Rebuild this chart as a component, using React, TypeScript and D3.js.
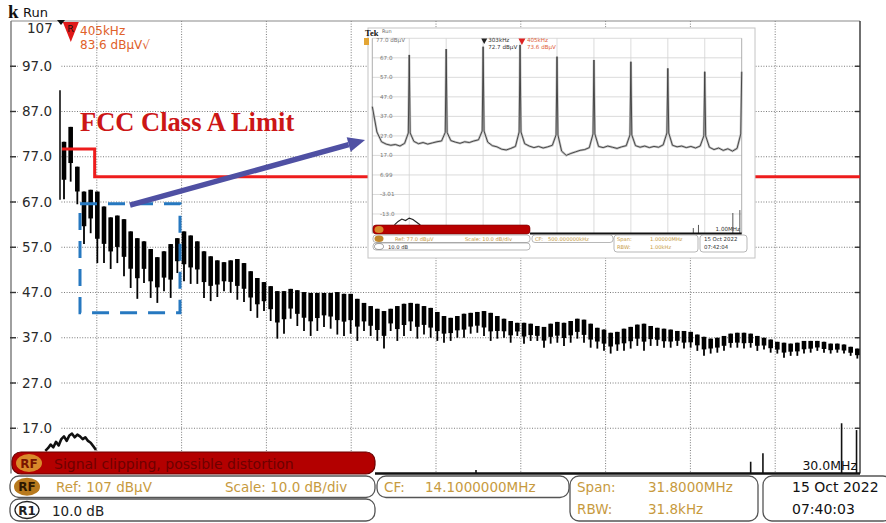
import React from "react";
import * as d3 from "d3";

// ---------- main spectrum (RF, 0 – 30 MHz) ----------
const spanStartMHz = -1.8;
const spanStopMHz = 30;
const refLevelDb = 107;
const bottomLevelDb = 7;

const yTickValues = [97, 87, 77, 67, 57, 47, 37, 27, 17];
const yTickLabels = ["97.0", "87.0", "77.0", "67.0", "57.0", "47.0", "37.0", "27.0", "17.0"];

// switching harmonics: first line and spacing (MHz)
const harmonicStartMHz = 0.15;
const harmonicStepMHz = 0.25;

// max-hold peak and min of each harmonic group (dBµV)
const barTopDb = [
  80.3, 83.6, 74.8, 69.3, 69.7, 69.3, 66.0, 63.6, 64.0, 63.2,
  60.5, 59.0, 58.3, 56.6, 54.8, 56.1, 57.7, 59.0, 60.5, 59.6,
  58.3, 56.1, 55.0, 54.1, 53.7, 54.1, 54.4, 53.5, 51.7, 50.2,
  49.3, 48.4, 47.3, 47.3, 47.8, 47.5, 47.1, 46.9, 46.9, 46.9,
  46.9, 47.1, 46.7, 46.7, 45.6, 44.7, 44.0, 43.4, 42.9, 43.4,
  44.0, 44.5, 44.7, 44.5, 44.0, 43.6, 42.7, 41.8, 41.4, 41.8,
  42.3, 42.5, 42.7, 42.9, 42.5, 41.8, 41.2, 40.7, 40.3, 40.3,
  40.1, 39.6, 39.4, 40.1, 40.5, 40.3, 40.7, 41.2, 41.0, 40.1,
  39.2, 38.8, 38.1, 38.3, 39.0, 39.4, 39.9, 40.1, 39.6, 39.2,
  39.0, 38.8, 38.5, 38.5, 38.3, 37.7, 37.2, 36.8, 37.0, 37.4,
  37.9, 38.1, 38.1, 37.9, 37.4, 37.0, 36.6, 36.1, 35.9, 35.7,
  35.9, 36.3, 36.3, 36.3, 36.1, 35.7, 35.7, 35.5, 35.0, 34.6,
];
const barBottomDb = [
  67.6, 71.5, 66.5, 57.7, 60.1, 53.5, 53.5, 52.2, 53.5, 50.6,
  48.0, 45.6, 49.1, 45.8, 44.7, 47.3, 45.8, 51.3, 49.5, 48.9,
  48.9, 45.8, 45.1, 46.0, 47.3, 46.9, 45.4, 44.9, 42.9, 41.4,
  42.9, 40.7, 36.8, 37.9, 41.2, 39.6, 38.5, 37.4, 38.5, 39.4,
  39.0, 37.7, 37.4, 37.9, 36.3, 38.5, 37.4, 36.3, 34.6, 38.5,
  36.3, 37.4, 38.5, 36.8, 37.7, 37.0, 36.3, 35.9, 36.3, 37.0,
  37.0, 37.9, 38.1, 37.4, 36.3, 36.8, 37.0, 35.9, 37.4, 35.7,
  36.3, 36.3, 34.8, 35.7, 35.9, 35.2, 35.9, 36.8, 35.9, 34.8,
  34.6, 34.1, 33.5, 34.1, 34.1, 34.6, 35.2, 34.1, 35.2, 35.2,
  34.8, 34.8, 35.2, 34.6, 34.8, 34.1, 33.0, 33.5, 33.7, 34.1,
  34.8, 34.8, 34.6, 34.8, 34.1, 34.4, 33.7, 33.5, 32.6, 33.0,
  33.0, 33.5, 33.7, 34.1, 33.7, 33.5, 33.7, 33.5, 33.0, 32.4,
];

// DC line at the left end of the sweep
const dcLineMHz = 0;
const dcLineTopDb = 91.7;
const dcLineBottomDb = 67.5;

// R1 reference trace near the floor
const r1FreqMHz = [-0.55, -0.45, -0.35, -0.25, -0.15, -0.05, 0.05, 0.15, 0.25, 0.35, 0.45, 0.55, 0.65, 0.75, 0.85, 0.95, 1.05, 1.15, 1.25, 1.35];
const r1Db = [12.0, 12.6, 13.4, 12.8, 14.0, 13.2, 14.6, 15.2, 14.2, 15.4, 15.8, 15.0, 15.6, 15.2, 14.6, 15.0, 14.2, 13.8, 13.0, 12.2];

// short spurs rising from the floor
const spurFreqMHz = [15.6, 25.9, 26.36, 29.31, 29.87];
const spurDb = [7.8, 9.6, 11.5, 18.1, 16.6];

// FCC Class A conducted limit as drawn (dBµV)
const limitFreqMHz = [0.075, 1.3, 1.3, 30];
const limitDb = [78.7, 78.7, 72.6, 72.6];

// ---------- zoomed 0 – 1 MHz sweep ----------
const insetTickLabels = ["77.0 dBµV", "67.0", "57.0", "47.0", "37.0", "27.0", "17.0", "6.99", "-3.01", "-13.0"];
const insetTickValues = [77, 67, 57, 47, 37, 27, 17, 6.99, -3.01, -13];
const insetPeakFreqMHz = [0.1, 0.2, 0.3, 0.4, 0.5, 0.6, 0.7, 0.8, 0.9, 1.0];
const insetPeakDb = [68.5, 71.5, 72.7, 73.6, 67.6, 65.9, 65.0, 61.6, 59.9, 59.9];
const insetFloorStepMHz = 0.0125;
const insetFloorDb = [
  42.0, 29.0, 24.0, 22.8, 22.2, 22.6, 21.8, 23.2, 28.5,
  24.2, 23.0, 23.6, 22.8, 23.4, 24.0, 24.4, 28.8,
  24.6, 23.8, 23.2, 24.0, 23.6, 24.4, 25.0, 29.5,
  23.8, 22.0, 21.4, 20.2, 19.8, 20.6, 21.6, 29.0,
  23.0, 21.8, 21.0, 21.6, 20.8, 21.4, 22.2, 27.5,
  19.2, 17.0, 18.0, 18.8, 19.6, 20.0, 21.0, 28.0,
  21.6, 21.0, 21.8, 21.2, 20.6, 21.4, 22.0, 27.5,
  22.0, 21.2, 21.8, 21.0, 21.6, 21.2, 22.4, 28.5,
  22.2, 21.4, 21.8, 21.0, 21.6, 20.8, 21.8, 27.0,
  21.2, 20.0, 20.8, 19.6, 20.4, 19.2, 20.6, 28.0,
];
const insetR1FreqMHz = [0.06, 0.07, 0.08, 0.09, 0.1, 0.11, 0.12, 0.13];
const insetR1Db = [-18.6, -16.8, -15.6, -16.4, -15.1, -15.8, -17.2, -18.6];
const insetSpurFreqMHz = [0.869, 0.883, 0.976, 0.995];
const insetSpurDb = [-20.2, -18.6, -12.5, -11.0];

const gold = "#c79a3e";
const sans = "DejaVu Sans, Verdana, sans-serif";

function Box({ x0, x1, y0, y1, fill = "#fff", stroke = "#555" }: any) {
  return <rect x={x0} y={y0} width={x1 - x0} height={y1 - y0} rx={9} ry={9} fill={fill} stroke={stroke} strokeWidth={1.3} />;
}

function Inset() {
  const ix = d3.scaleLinear().domain([0, 1]).range([372.3, 741.7]);
  const iy = d3.scaleLinear().domain([-23, 77]).range([233.5, 38.3]);

  const pts: [number, number][] = [];
  insetFloorDb.forEach((v, j) => {
    const f = j * insetFloorStepMHz;
    const k = insetPeakFreqMHz.findIndex((p) => Math.abs(p - f) < 1e-6);
    if (k >= 0) {
      pts.push([f - 0.0025, v]);
      pts.push([f, insetPeakDb[k]]);
      if (f < 0.999) pts.push([f + 0.0025, v]);
    } else pts.push([f, v]);
  });
  const line = d3.line<[number, number]>().x((d) => ix(d[0])).y((d) => iy(d[1]));
  const r1 = d3.line<number>().x((_, i) => ix(insetR1FreqMHz[i])).y((d) => iy(d));
  const vx = d3.range(0, 11).map((k) => ix(k / 10));

  const mk1 = ix(0.303);
  const mk2 = ix(0.405);
  const fs = 5.6;
  return (
    <g fontFamily={sans}>
      <rect x={368} y={28} width={387} height={230} fill="#fff" stroke="#c4c4c4" strokeWidth={1} />
      <text x={365} y={36} fontSize={8.5} fontWeight="bold" fontFamily="Liberation Serif, serif" fill="#111">Tek</text>
      <text x={382} y={33} fontSize={5} fill="#666">Run</text>
      <rect x={364} y={38} width={5} height={7} fill="#e3a534" />
      {insetTickValues.map((v, i) => (
        <line key={"ih" + i} x1={ix(0)} x2={ix(1)} y1={iy(v)} y2={iy(v)} stroke="#d2d2d2" strokeWidth={0.8} />
      ))}
      {vx.map((vv, i) => (
        <line key={"iv" + i} x1={vv} x2={vv} y1={iy(77)} y2={iy(-23)} stroke={i === 0 || i === 10 ? "#999" : "#d2d2d2"} strokeWidth={0.8} />
      ))}
      {insetTickLabels.map((t, i) => (
        <text key={"il" + i} x={i === 0 ? 376 : 380} y={iy(insetTickValues[i]) + (i === 0 ? 3.5 : 2)} fontSize={fs} fill="#777">{t}</text>
      ))}
      <path d={line(pts) || ""} fill="none" stroke="#c4c4c4" strokeWidth={2.4} />
      <path d={line(pts) || ""} fill="none" stroke="#3a3a3a" strokeWidth={0.9} />
      <path d={r1(insetR1Db) || ""} fill="none" stroke="#222" strokeWidth={1.2} />
      {insetSpurFreqMHz.map((f, i) => (
        <line key={"is" + i} x1={ix(f)} x2={ix(f)} y1={iy(insetSpurDb[i])} y2={iy(-23)} stroke="#444" strokeWidth={0.9} />
      ))}
      <path d={`M${mk1 - 3},${38.5}L${mk1 + 3},${38.5}L${mk1},${44}Z`} fill="#222" />
      <text x={mk1 + 4} y={42} fontSize={fs} fill="#333">303kHz</text>
      <text x={mk1 + 4} y={49} fontSize={fs} fill="#333">72.7 dBµV</text>
      <path d={`M${mk2 - 3.5},${38.5}L${mk2 + 3.5},${38.5}L${mk2},${45}Z`} fill="#d22" />
      <text x={mk2 + 5} y={42} fontSize={fs} fill="#e0613a">405kHz</text>
      <text x={mk2 + 5} y={49} fontSize={fs} fill="#e0613a">73.6 dBµV</text>
      <line x1={530} x2={ix(1)} y1={iy(-23)} y2={iy(-23)} stroke="#111" strokeWidth={1.8} />
      <text x={740} y={231} fontSize={fs} fill="#333" textAnchor="end">1.00MHz</text>
      {/* readout strip */}
      <rect x={373} y={225} width={157} height={9} rx={3} fill="#b80000" stroke="#700" strokeWidth={0.6} />
      <ellipse cx={379} cy={229.5} rx={4.5} ry={3.5} fill="#d8892a" />
      <rect x={373} y={235} width={157} height={7.5} rx={3} fill="#fff" stroke="#888" strokeWidth={0.6} />
      <ellipse cx={379} cy={238.7} rx={4.5} ry={3.2} fill="#c0862a" />
      <text x={395} y={241} fontSize={5.2} fill={gold}>Ref: 77.0 dBµV</text>
      <text x={465} y={241} fontSize={5.2} fill={gold}>Scale: 10.0 dB/div</text>
      <rect x={373} y={243} width={157} height={7} rx={3} fill="#fff" stroke="#888" strokeWidth={0.6} />
      <ellipse cx={379} cy={246.5} rx={4.5} ry={3} fill="#fff" stroke="#444" strokeWidth={0.5} />
      <text x={388} y={249} fontSize={5.2} fill="#333">10.0 dB</text>
      <rect x={532} y={235} width={81} height={7.5} rx={3} fill="#fff" stroke="#888" strokeWidth={0.6} />
      <text x={535} y={241} fontSize={5.2} fill={gold}>CF:</text>
      <text x={548} y={241} fontSize={5.2} fill={gold}>500.000000kHz</text>
      <rect x={614} y={235} width={84} height={17} rx={3} fill="#fff" stroke="#888" strokeWidth={0.6} />
      <text x={617} y={241} fontSize={5.2} fill={gold}>Span:</text>
      <text x={650} y={241} fontSize={5.2} fill={gold}>1.00000MHz</text>
      <text x={617} y={249} fontSize={5.2} fill={gold}>RBW:</text>
      <text x={650} y={249} fontSize={5.2} fill={gold}>1.00kHz</text>
      <rect x={700} y={235} width={47} height={17} rx={3} fill="#fff" stroke="#888" strokeWidth={0.6} />
      <text x={704} y={241} fontSize={5.4} fill="#333">15 Oct  2022</text>
      <text x={704} y={249} fontSize={5.4} fill="#333">07:42:04</text>
    </g>
  );
}

export default function App() {
  const x = d3.scaleLinear().domain([spanStartMHz, spanStopMHz]).range([12, 860]);
  const y = d3.scaleLinear().domain([bottomLevelDb, refLevelDb]).range([473.5, 21]);
  const [xl, xr] = x.range();
  const gridX = d3.range(1, 10).map((k) => xl + (k * (xr - xl)) / 10);

  const limitLine = d3
    .line<number>()
    .x((_, i) => x(limitFreqMHz[i]))
    .y((d) => y(d));

  const r1Line = d3
    .line<number>()
    .x((_, i) => x(r1FreqMHz[i]))
    .y((d) => y(d));

  // annotation: arrow from the boxed region to the zoomed sweep
  const a0 = [x(2.625), y(66.3)];
  const a1 = [x(11.44), y(80.7)];
  const ang = Math.atan2(a1[1] - a0[1], a1[0] - a0[0]);
  const headL = 17;
  const headW = 7.5;
  const base = [a1[0] - headL * Math.cos(ang), a1[1] - headL * Math.sin(ang)];
  const head = `M${a1[0]},${a1[1]}L${base[0] + headW * Math.sin(ang)},${base[1] - headW * Math.cos(ang)}L${base[0] - headW * Math.sin(ang)},${base[1] + headW * Math.cos(ang)}Z`;

  const boxX0 = x(0.75);
  const boxX1 = x(4.5);
  const boxY0 = y(66.6);
  const boxY1 = y(42.5);

  return (
    <svg
      width={886}
      height={523}
      viewBox="0 0 886 523"
      style={{ position: "absolute", left: 0, top: 0, background: "#fff" }}
      fontFamily={sans}
    >
      <rect x={0} y={0} width={886} height={523} fill="#fff" />

      {/* graticule */}
      {gridX.map((gx, i) => (
        <line key={"gx" + i} x1={gx} x2={gx} y1={y(refLevelDb)} y2={y(bottomLevelDb)} stroke="#7a7a7a" strokeWidth={1} strokeDasharray="1 1.6" />
      ))}
      {yTickValues.map((v, i) => (
        <line key={"gy" + i} x1={xl} x2={xr} y1={y(v)} y2={y(v)} stroke="#7a7a7a" strokeWidth={1} strokeDasharray="1 1.6" />
      ))}
      <line x1={11} x2={xr} y1={y(refLevelDb)} y2={y(refLevelDb)} stroke="#8a8a8a" strokeWidth={1.2} />
      <line x1={11} x2={11} y1={y(refLevelDb)} y2={y(bottomLevelDb)} stroke="#777" strokeWidth={1.4} />
      <line x1={xr} x2={xr} y1={y(refLevelDb)} y2={y(bottomLevelDb)} stroke="#333" strokeWidth={1.4} />
      {yTickValues.map((v, i) => (
        <g key={"yl" + i}>
          <line x1={10} x2={16} y1={y(v)} y2={y(v)} stroke="#333" strokeWidth={1.4} />
          <line x1={xr - 5} x2={xr} y1={y(v)} y2={y(v)} stroke="#333" strokeWidth={1.4} />
          <rect x={18} y={y(v) - 8} width={42} height={15} fill="#fff" />
          <text x={22} y={y(v) + 4.5} fontSize={13.5} fill="#2a2a2a">{yTickLabels[i]}</text>
        </g>
      ))}
      <text x={27} y={33} fontSize={13.5} fill="#2a2a2a">107</text>

      {/* title fragment */}
      <text x={8} y={18} fontSize={19} fontWeight="bold" fontFamily="Liberation Serif, serif" fill="#111">k</text>
      <text x={23} y={17} fontSize={13} fill="#111">Run</text>

      {/* DC line */}
      <line x1={x(dcLineMHz)} x2={x(dcLineMHz)} y1={y(dcLineTopDb)} y2={y(dcLineBottomDb)} stroke="#111" strokeWidth={1.6} />

      {/* harmonic bars */}
      {barTopDb.map((top, i) => {
        const f = harmonicStartMHz + harmonicStepMHz * i;
        const cx = x(f);
        const yt = y(top);
        const yb = y(barBottomDb[i]);
        const thick = (yb - yt) * 0.66;
        return (
          <g key={"b" + i}>
            <line x1={cx} x2={cx} y1={yt} y2={yb} stroke="#000" strokeWidth={1.8} />
            <rect x={cx - 2.3} y={yt} width={4.6} height={thick} fill="#000" />
          </g>
        );
      })}

      {/* R1 trace near floor */}
      <path d={r1Line(r1Db) || ""} fill="none" stroke="#111" strokeWidth={2.6} strokeLinejoin="round" />

      {/* spurs */}
      {spurFreqMHz.map((f, i) => (
        <line key={"sp" + i} x1={x(f)} x2={x(f)} y1={y(spurDb[i])} y2={y(bottomLevelDb)} stroke="#111" strokeWidth={1.6} />
      ))}
      <text x={857} y={470} fontSize={12.5} fill="#111" textAnchor="end">30.0MHz</text>

      {/* limit line */}
      <path d={limitLine(limitDb) || ""} fill="none" stroke="#ee1c1c" strokeWidth={3} />
      <text x={80} y={131} fontSize={26.5} fontWeight="bold" fontFamily="Liberation Serif, Times New Roman, serif" fill="#cc1616">
        FCC Class A Limit
      </text>

      {/* highlighted region */}
      <rect x={boxX0} y={boxY0} width={boxX1 - boxX0} height={boxY1 - boxY0} fill="none" stroke="#2678c0" strokeWidth={3} strokeDasharray="17 11" />

      <Inset />

      {/* arrow */}
      <line x1={a0[0]} y1={a0[1]} x2={base[0]} y2={base[1]} stroke="#4f50a3" strokeWidth={5.5} />
      <path d={head} fill="#4f50a3" />

      {/* marker */}
      <path d={`M${x(0.405) - 8},22L${x(0.405) + 8},22L${x(0.405)},42Z`} fill="#e01818" />
      <path d={`M57,20L65,20L61,25Z`} fill="#111" />
      <text x={x(0.405) - 3.5} y={32} fontSize={9.5} fill="#111">R</text>
      <text x={80} y={35} fontSize={12} fill="#e0612a">405kHz</text>
      <text x={80} y={49} fontSize={12} fill="#e0612a">83.6 dBµV√</text>

      {/* bottom line */}
      <line x1={375} x2={xr} y1={y(bottomLevelDb)} y2={y(bottomLevelDb)} stroke="#111" strokeWidth={2.6} />

      {/* readouts */}
      <rect x={12} y={452} width={363} height={22} rx={9} fill="#b30000" stroke="#6a0000" strokeWidth={1.2} />
      <ellipse cx={29} cy={463} rx={13} ry={9} fill="#d9892a" />
      <text x={29} y={467.5} fontSize={12} fontWeight="bold" fill="#7a1400" textAnchor="middle">RF</text>
      <text x={54} y={468.5} fontSize={14} fill="#6e0000">Signal clipping, possible distortion</text>

      <Box x0={10} x1={375} y0={476} y1={497.5} />
      <ellipse cx={27} cy={486.7} rx={13} ry={9} fill="#b87a1e" />
      <text x={27} y={491.3} fontSize={12} fontWeight="bold" fill="#2e1800" textAnchor="middle">RF</text>
      <text x={56} y={492} fontSize={13.5} fill={gold}>Ref: 107 dBµV</text>
      <text x={225} y={492} fontSize={13.5} fill={gold}>Scale: 10.0 dB/div</text>

      <Box x0={10} x1={375} y0={499} y1={521} />
      <ellipse cx={27} cy={510} rx={12} ry={8.5} fill="#fff" stroke="#222" strokeWidth={1.3} />
      <text x={27} y={514.5} fontSize={12} fontWeight="bold" fill="#222" textAnchor="middle">R1</text>
      <text x={52} y={515.5} fontSize={13.5} fill="#222">10.0 dB</text>

      <Box x0={377} x1={569} y0={476} y1={497.5} />
      <text x={384} y={492} fontSize={13.5} fill={gold}>CF:</text>
      <text x={425} y={492} fontSize={13.5} fill={gold}>14.1000000MHz</text>

      <Box x0={570} x1={758} y0={476} y1={521} />
      <text x={577} y={492} fontSize={13.5} fill={gold}>Span:</text>
      <text x={648} y={492} fontSize={13.5} fill={gold}>31.8000MHz</text>
      <text x={577} y={514} fontSize={13.5} fill={gold}>RBW:</text>
      <text x={648} y={514} fontSize={13.5} fill={gold}>31.8kHz</text>

      <Box x0={763} x1={892} y0={476} y1={521} />
      <text x={792} y={492} fontSize={14} fill="#111">15 Oct  2022</text>
      <text x={792} y={514} fontSize={14} fill="#111">07:40:03</text>
    </svg>
  );
}
